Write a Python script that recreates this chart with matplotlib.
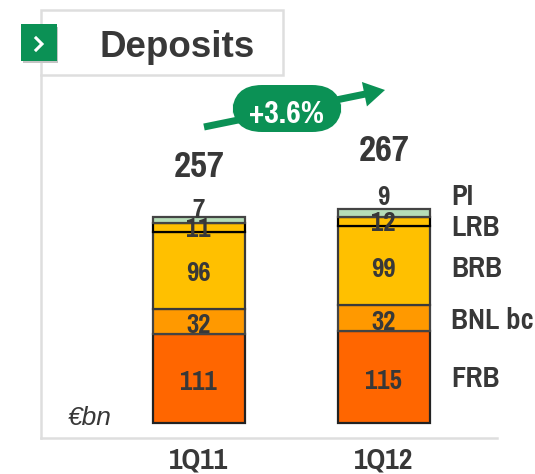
import matplotlib
matplotlib.use("Agg")
import logging
import matplotlib.pyplot as plt
from matplotlib.patches import FancyBboxPatch, Rectangle, FancyArrow

logging.getLogger("matplotlib.font_manager").setLevel(logging.ERROR)

W, H = 535, 474

quarters = ["1Q11", "1Q12"]
segments = ["FRB", "BNL bc", "BRB", "LRB", "PI"]
frb = [111, 115]
bnl = [32, 32]
brb = [96, 99]
lrb = [11, 12]
pi = [7, 9]
totals = [257, 267]
growth = "+3.6%"

colors = ["#FF6600", "#FF9900", "#FFC000", "#FFC000", "#B5DDB8"]
edges = ["#222222", "#444444", "#3a3a3a", "#000000", "#444444"]
text_col = "#383838"
green = "#0B9155"
grey = "#DEDEDE"

narrow = ["Pragati Narrow", "Liberation Sans"]
plt.rcParams["font.family"] = ["Liberation Sans", "DejaVu Sans"]

fig = plt.figure(figsize=(W / 100, H / 100), dpi=100)
ax = fig.add_axes([41 / W, 1 - 438 / H, (497 - 41) / W, (438 - 75) / H])
ax.set_xlim(-0.854, 1.611)
ax.set_ylim(-18.75, 435)
ax.patch.set_alpha(0)

# stacked bars, PI labels sit above the bar
series = [frb, bnl, brb, lrb, pi]
label_shift = [[-2, -2], [-2, -2], [-1, -1], [1, 1], [15, 23]]
bottom = [0, 0]
for i, vals in enumerate(series):
    ax.bar(range(2), vals, width=0.497, bottom=bottom, color=colors[i],
           edgecolor=edges[i], linewidth=1.6, zorder=2)
    for j, v in enumerate(vals):
        ax.text(j - 0.005, bottom[j] + v / 2 + label_shift[i][j], str(v), ha="center",
                va="center_baseline", family=narrow, fontweight="bold", fontsize=21,
                color=text_col, zorder=4)
    bottom = [bottom[k] + vals[k] for k in range(2)]

total_shift = [67, 77]
for j, t in enumerate(totals):
    ax.text(j, t + total_shift[j], str(t), ha="center", va="center_baseline", family=narrow,
            fontweight="bold", fontsize=29, color=text_col)

ax.set_xticks(range(2))
ax.set_xticklabels(quarters, family=narrow, fontweight="bold", fontsize=23, color=text_col)
ax.set_yticks([])
ax.tick_params(axis="x", length=0, pad=7)
for s in ["top", "right"]:
    ax.spines[s].set_visible(False)
for s in ["left", "bottom"]:
    ax.spines[s].set_color(grey)
    ax.spines[s].set_linewidth(1.8)

# overlay in picture pixels for the furniture around the chart
ov = fig.add_axes([0, 0, 1, 1])
ov.set_xlim(0, W)
ov.set_ylim(H, 0)
ov.axis("off")

label_y = [376, 318, 266, 225, 194]
for name, y in zip(segments, label_y):
    ov.text(451, y, name, ha="left", va="center_baseline", fontweight="bold",
            fontsize=22.5, color=text_col, family=narrow)

ov.text(68, 418, "€bn", ha="left", va="center", style="italic", fontsize=19, color=text_col)

# title box
ov.add_patch(Rectangle((41, 10), 242, 65, facecolor="white", edgecolor=grey, linewidth=1.8))
ov.text(177, 43, "Deposits", ha="center", va="center_baseline", fontweight="bold",
        fontsize=26.5, color=text_col)

# green square marker
ov.add_patch(Rectangle((23, 27), 35, 36, facecolor="#C4C4C4", edgecolor="none"))
ov.add_patch(Rectangle((21, 24), 36, 37, facecolor=green, edgecolor="none"))
ov.plot([36, 42, 36], [38, 44, 50], color="white", lw=2.2, solid_joinstyle="miter")

# growth arrow and pill
ov.add_patch(FancyArrow(204, 127, 181, -37, width=7, head_width=25, head_length=21,
                        length_includes_head=True, facecolor=green, edgecolor="none"))
ov.add_patch(FancyBboxPatch((232, 85), 110, 47, boxstyle="round,pad=0,rounding_size=30",
                            facecolor=green, edgecolor="none", zorder=3))
ov.text(287, 111, growth, ha="center", va="center_baseline", family=narrow,
        fontweight="bold", fontsize=25, color="white", zorder=4)

fig.savefig("out.png", dpi=100)
